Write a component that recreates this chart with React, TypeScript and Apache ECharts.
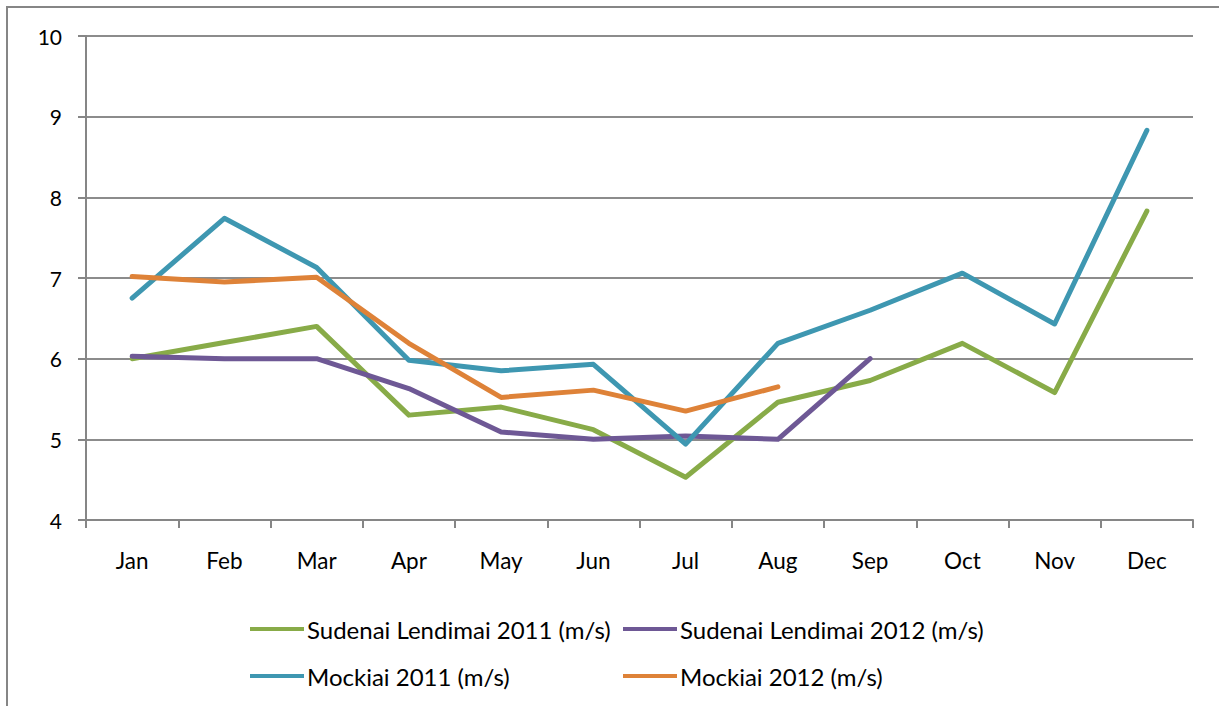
import React, { useEffect, useRef } from "react";
import * as echarts from "echarts";

const months = ["Jan", "Feb", "Mar", "Apr", "May", "Jun", "Jul", "Aug", "Sep", "Oct", "Nov", "Dec"];
const sudenai2011 = [6.0, 6.2, 6.4, 5.3, 5.4, 5.12, 4.53, 5.46, 5.73, 6.19, 5.58, 7.83];
const sudenai2012 = [6.03, 6.0, 6.0, 5.63, 5.09, 5.0, 5.04, 5.0, 6.0];
const mockiai2011 = [6.75, 7.74, 7.13, 5.98, 5.85, 5.93, 4.94, 6.19, 6.6, 7.06, 6.43, 8.83];
const mockiai2012 = [7.02, 6.95, 7.01, 6.19, 5.52, 5.61, 5.35, 5.65];

const names = [
  "Sudenai Lendimai 2011 (m/s)",
  "Sudenai Lendimai 2012 (m/s)",
  "Mockiai 2011 (m/s)",
  "Mockiai 2012 (m/s)",
];
const colors = ["#88AB48", "#6E5895", "#3E97B1", "#DE8238"];
const seriesData = [sudenai2011, sudenai2012, mockiai2011, mockiai2012];

const FONT = "Lato";

export default function App() {
  const ref = useRef<HTMLDivElement>(null);
  useEffect(() => {
    if (!ref.current) return;
    const chart = echarts.init(ref.current, null, { renderer: "svg" });
    const legendPos = [
      { left: 250, top: 617 },
      { left: 623, top: 617 },
      { left: 250, top: 664 },
      { left: 623, top: 664 },
    ];
    chart.setOption({
      animation: false,
      backgroundColor: "#ffffff",
      textStyle: { fontFamily: FONT },
      graphic: [
        {
          type: "rect",
          shape: { x: 7, y: 7, width: 1400, height: 900 },
          style: { fill: "none", stroke: "#868686", lineWidth: 2 },
          silent: true,
        },
      ],
      grid: { left: 86, top: 36, right: 26, bottom: 186, containLabel: false },
      legend: names.map((n, i) => ({
        data: [n],
        left: legendPos[i].left,
        top: legendPos[i].top,
        itemWidth: 54,
        itemHeight: 22,
        itemGap: 0,
        padding: 0,
        icon: "path://M0,9 L54,9 L54,13 L0,13 Z",
        textStyle: { fontFamily: FONT, fontSize: 24, color: "#000", padding: [0, 0, 0, -2] },
        selectedMode: false,
      })),
      xAxis: {
        type: "category",
        data: months,
        boundaryGap: true,
        axisLine: { lineStyle: { color: "#868686", width: 2 } },
        axisTick: { show: true, length: 8, lineStyle: { color: "#868686", width: 2 } },
        axisLabel: { color: "#000", fontSize: 22.5, fontFamily: FONT, margin: 29 },
        splitLine: { show: false },
      },
      yAxis: {
        type: "value",
        min: 4,
        max: 10,
        interval: 1,
        axisLine: { show: true, lineStyle: { color: "#868686", width: 2 } },
        axisTick: { show: true, length: 8, lineStyle: { color: "#868686", width: 2 } },
        axisLabel: { color: "#000", fontSize: 21, fontFamily: FONT, margin: 24 },
        splitLine: { show: true, lineStyle: { color: "#8C8C8C", width: 2 } },
      },
      series: names.map((n, i) => ({
        name: n,
        type: "line",
        data: seriesData[i],
        showSymbol: false,
        symbol: "none",
        lineStyle: { color: colors[i], width: 5, cap: "round", join: "round" },
        itemStyle: { color: colors[i] },
      })),
    });
    return () => chart.dispose();
  }, []);
  return (
    <div
      ref={ref}
      style={{ position: "absolute", left: 0, top: 0, width: 1219, height: 706 }}
    />
  );
}
